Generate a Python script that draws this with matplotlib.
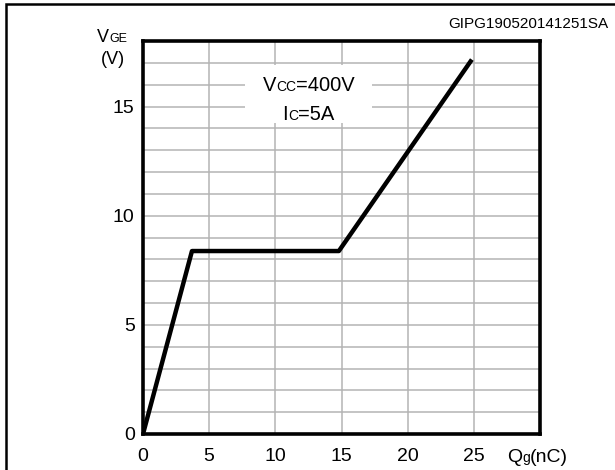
import matplotlib
matplotlib.use('Agg')
import matplotlib.pyplot as plt
import matplotlib.transforms as mtransforms
from matplotlib.patches import Rectangle

plt.rcParams['font.family'] = ['Liberation Sans', 'DejaVu Sans']

# gate charge curve (Qg in nC, VGE in V)
qg = [0.0, 3.7, 14.8, 24.85]
vge = [0.0, 8.38, 8.38, 17.15]

x_ticks = [0, 5, 10, 15, 20, 25]
y_ticks = [0, 5, 10, 15]
x_grid = [0, 5, 10, 15, 20, 25, 30]
y_grid = list(range(0, 19))

fig = plt.figure(figsize=(6.15, 4.7), dpi=100)
ax = fig.add_axes([143 / 615, 1 - 434 / 470, (540 - 143) / 615, (434 - 41) / 470])

ax.set_xlim(0, 30)
ax.set_ylim(0, 18)
ax.set_xticks(x_grid)
ax.set_yticks(y_grid)
ax.set_xticklabels([str(v) if v in x_ticks else '' for v in x_grid])
ax.set_yticklabels([str(v) if v in y_ticks else '' for v in y_grid])
ax.tick_params(length=0, labelsize=14)
ax.tick_params(axis='y', pad=6)
ax.tick_params(axis='x', pad=10)
ax.grid(True, color='#b4b4b4', linewidth=1.1)
ax.set_axisbelow(True)
for s in ax.spines.values():
    s.set_linewidth(2.6)

# white box behind the conditions text
ax.add_patch(Rectangle((7.7, 14.25), 9.6, 2.65, facecolor='white',
                       edgecolor='none', zorder=1.5))

ax.plot(qg, vge, color='black', linewidth=3.2, solid_capstyle='butt', zorder=3)

fig.canvas.draw()
renderer = fig.canvas.get_renderer()


def rich_text(x, y, parts, transform, ha='left'):
    """Draw text pieces of different sizes on one baseline."""
    texts = []
    widths = []
    for s, size in parts:
        t = fig.text(0, 0, s, fontsize=size, va='baseline', ha='left',
                     transform=transform)
        widths.append(t.get_window_extent(renderer).width * 72 / fig.dpi)
        texts.append(t)
    total = sum(widths)
    dx = 0.0
    if ha == 'center':
        dx = -total / 2
    for t, w in zip(texts, widths):
        t.set_position((x, y))
        t.set_transform(mtransforms.offset_copy(transform, fig, x=dx, y=0, units='points'))
        dx += w
    return texts


rich_text(12.5, 15.7, [('V', 14.5), ('CC', 10), ('=400V', 14.5)], ax.transData, ha='center')
rich_text(12.5, 14.4, [('I', 14.5), ('C', 10), ('=5A', 14.5)], ax.transData, ha='center')

rich_text(97 / 615, 1 - 42 / 470, [('V', 13), ('GE', 9)], fig.transFigure)
fig.text(113 / 615, 1 - 59 / 470, '(V)', fontsize=13, ha='center', va='center')
rich_text(507 / 615, 1 - 462 / 470, [('Q', 14), ('g', 10), ('(nC)', 14)], fig.transFigure)

fig.text(608 / 615, 1 - 24 / 470, 'GIPG190520141251SA', fontsize=11,
         ha='right', va='center')

# outer frame of the picture
fig.patches.append(Rectangle((6 / 615, -0.1), 1.2, 1.1 - 4 / 470, fill=False,
                             edgecolor='black', linewidth=1.8,
                             transform=fig.transFigure, figure=fig))

fig.savefig('out.png', dpi=100)
